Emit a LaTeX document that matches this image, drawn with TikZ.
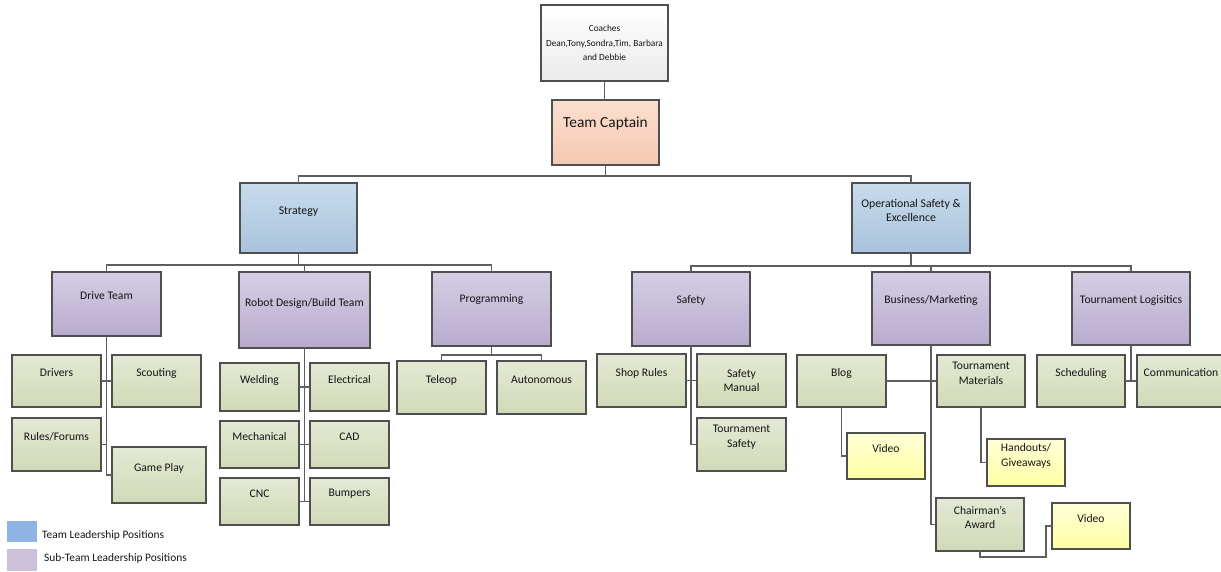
\documentclass[tikz,border=0pt]{standalone}
\usepackage{fontspec}
\setmainfont{Carlito}
\usetikzlibrary{shadows}
\definecolor{gtop}{HTML}{E3E9D4}
\definecolor{gbot}{HTML}{D1DAB7}
\definecolor{ptop}{HTML}{D5CEE4}
\definecolor{pbot}{HTML}{B8ACCE}
\definecolor{btop}{HTML}{C8DBEC}
\definecolor{bbot}{HTML}{A8C3DC}
\definecolor{ytop}{HTML}{FFFFD8}
\definecolor{ybot}{HTML}{FFFFA4}
\definecolor{ctop}{HTML}{FCDECE}
\definecolor{cbot}{HTML}{F4C9B2}
\definecolor{edge}{HTML}{4F4F4F}
\definecolor{wire}{HTML}{5E5E5E}
\definecolor{ink}{HTML}{141414}
\definecolor{legblue}{HTML}{8DB4E2}
\definecolor{legpurp}{HTML}{CCC1DA}
\newcommand\bx[8]{%
  \node[#1, minimum width={#5pt-#3pt}, minimum height={#6pt-#4pt}] (#2) at ({(#3+#5)/2},{(#4+#6)/2}) {};
  \node[txt] (#2t) at ({(#3+#5)/2},#8) {#7};}
\begin{document}
\begin{tikzpicture}[x=1pt,y=-1pt,
  base/.style={draw=edge, line width=1.2pt, inner sep=0pt, outer sep=0pt,
    drop shadow={shadow xshift=1.2pt, shadow yshift=-1.2pt, opacity=0.22, fill=black}},
  gbox/.style={base, top color=gtop, bottom color=gbot},
  pbox/.style={base, top color=ptop, bottom color=pbot},
  bbox/.style={base, top color=btop, bottom color=bbot},
  ybox/.style={base, top color=ytop, bottom color=ybot},
  capbox/.style={base, line width=1.8pt, top color=ctop, bottom color=cbot},
  coachbox/.style={base, line width=1.8pt, top color=white, bottom color=black!8},
  txt/.style={font=\fontsize{11.6}{14.8}\selectfont, text=ink, align=center, inner sep=0pt},
  wire/.style={draw=wire, line width=1.2pt},
  legtxt/.style={font=\fontsize{11.4}{13}\selectfont, text=ink, anchor=west, inner sep=0pt}]
\useasboundingbox (0,0) rectangle (1221,571);
% top
\bx{coachbox}{coach}{541}{5}{668}{81}{\fontsize{9.3}{11.5}\selectfont Coaches\\ \fontsize{9.3}{11.5}\selectfont Dean,Tony,Sondra,Tim, Barbara\\ \fontsize{9.3}{11.5}\selectfont and Debbie}{43}
\bx{capbox}{cap}{552}{100}{659}{165}{\fontsize{15.4}{18}\selectfont Team Captain}{123}
\bx{bbox}{strat}{240}{183}{357}{253}{\fontsize{11.8}{15}\selectfont Strategy}{211.5}
\bx{bbox}{ose}{852}{183}{970}{253}{\fontsize{11.8}{15}\selectfont Operational Safety \&\\ \fontsize{11.8}{15}\selectfont Excellence}{210.5}
% purple
\bx{pbox}{drive}{52}{272}{161}{336}{Drive Team}{296}
\bx{pbox}{robot}{239}{272}{370}{348}{Robot Design/Build Team}{303}
\bx{pbox}{prog}{432}{272}{551}{346}{Programming}{300}
\bx{pbox}{safety}{632}{272}{750}{346}{Safety}{300}
\bx{pbox}{bus}{872}{272}{990}{345}{Business/Marketing}{300}
\bx{pbox}{tl}{1072}{272}{1190}{345}{Tournament Logisitics}{300}
% green
\bx{gbox}{drivers}{12}{355}{101}{407}{Drivers}{373}
\bx{gbox}{scout}{112}{355}{201}{407}{Scouting}{373}
\bx{gbox}{rules}{12}{418}{101}{471}{Rules/Forums}{437}
\bx{gbox}{game}{112}{447}{206}{503}{Game Play}{468}
\bx{gbox}{weld}{220}{363}{299}{411}{Welding}{380}
\bx{gbox}{elec}{310}{363}{389}{411}{Electrical}{380}
\bx{gbox}{mech}{220}{421}{299}{468}{Mechanical}{437}
\bx{gbox}{cad}{310}{421}{389}{468}{CAD}{437}
\bx{gbox}{cnc}{220}{478}{299}{525}{CNC}{494}
\bx{gbox}{bump}{310}{478}{389}{525}{Bumpers}{494}
\bx{gbox}{teleop}{397}{361}{486}{414}{Teleop}{380}
\bx{gbox}{auto}{497}{361}{586}{414}{Autonomous}{380}
\bx{gbox}{shop}{597}{354}{686}{407}{Shop Rules}{373}
\bx{gbox}{sman}{697}{354}{786}{407}{Safety\\Manual}{380.5}
\bx{gbox}{tsafe}{697}{418}{786}{471}{Tournament\\Safety}{437.5}
\bx{gbox}{blog}{797}{355}{886}{407}{Blog}{373}
\bx{gbox}{tmat}{937}{355}{1025}{407}{Tournament\\Materials}{373.5}
\bx{gbox}{chair}{936}{498}{1024}{551}{Chairman's\\Award}{517.5}
\bx{gbox}{sched}{1037}{355}{1125}{407}{Scheduling}{373}
\bx{gbox}{comm}{1137}{355}{1225}{407}{Communication}{373}
% yellow
\bx{ybox}{vid}{847}{433}{925}{479}{Video}{449}
\bx{ybox}{hand}{987}{439}{1065}{486}{Handouts/\\Giveaways}{456}
\bx{ybox}{vidb}{1052}{503}{1130}{549}{Video}{519}
% connectors
\coordinate (l1) at (0,176);
\coordinate (l2) at (0,265);
\coordinate (l3) at (0,266);
\draw[wire] (coach.south) -- (coach.south |- cap.north);
\draw[wire] (cap.south) -- (cap.south |- l1) -| (strat.north);
\draw[wire] (cap.south |- l1) -| (ose.north);
\draw[wire] (strat.south) -- (strat.south |- l2) -| (drive.north);
\draw[wire] (strat.south |- l2) -| (robot.north);
\draw[wire] (strat.south |- l2) -| (prog.north);
\draw[wire] (ose.south) -- (ose.south |- l3) -| (safety.north);
\draw[wire] (ose.south |- l3) -| (bus.north);
\draw[wire] (ose.south |- l3) -| (tl.north);
% drive team
\draw[wire] (drive.south) |- (game.west);
\draw[wire] (drivers.east) -- (scout.west);
\draw[wire] (rules.east) -- (rules.east -| drive.south);
% robot
\draw[wire] (robot.south) -- (robot.south |- cnc.east);
\draw[wire] (weld.east) -- (elec.west);
\draw[wire] (mech.east) -- (cad.west);
\draw[wire] (cnc.east) -- (bump.west);
% programming
\coordinate (pj) at ([yshift=-9pt]prog.south);
\draw[wire] (prog.south) -- (pj) -| (teleop.north);
\draw[wire] (pj) -| (auto.north);
% safety
\draw[wire] (safety.south) |- (tsafe.west);
\draw[wire] (shop.east) -- (sman.west);
% business
\draw[wire] (bus.south) |- (chair.west);
\draw[wire] (blog.east) -- (tmat.west);
\draw[wire] (blog.south) |- (vid.west);
\draw[wire] (tmat.south) |- (hand.west);
\coordinate (cj) at ([yshift=-6pt]chair.south);
\coordinate (vj) at ([xshift=-6pt]vidb.west);
\draw[wire] (chair.south) -- (cj) -| (vj) -- (vidb.west);
% logistics
\draw[wire] (tl.south) -- (tl.south |- sched.east);
\draw[wire] (sched.east) -- (comm.west);
% legend
\node[fill=legblue, minimum width=30pt, minimum height=21pt, inner sep=0pt] (lb) at (22,531.5) {};
\node[legtxt] (lbt) at (42,535) {Team Leadership Positions};
\node[fill=legpurp, minimum width=30pt, minimum height=22pt, inner sep=0pt] (lp) at (22,560) {};
\node[legtxt] (lpt) at (44,558) {Sub-Team Leadership Positions};
\end{tikzpicture}
\end{document}
